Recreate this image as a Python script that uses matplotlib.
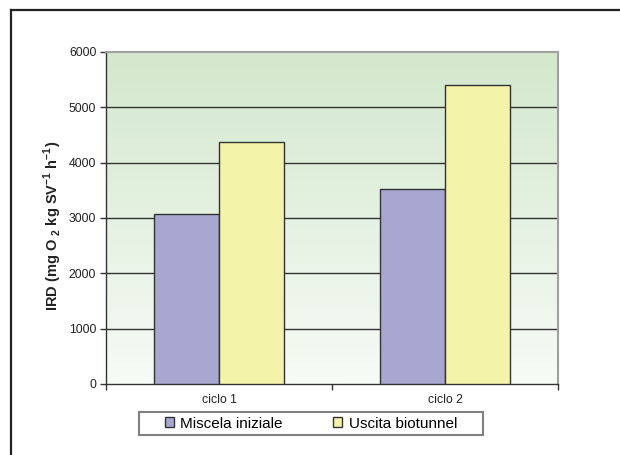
import numpy as np
import matplotlib
matplotlib.use("Agg")
import matplotlib.pyplot as plt
from matplotlib.lines import Line2D
from matplotlib.patches import Rectangle
from matplotlib.colors import LinearSegmentedColormap

plt.rcParams['font.family'] = ['Liberation Sans', 'DejaVu Sans']
plt.rcParams['mathtext.fontset'] = 'custom'
plt.rcParams['mathtext.rm'] = 'Liberation Sans'
plt.rcParams['mathtext.bf'] = 'Liberation Sans:bold'

# Data
categories = ["ciclo 1", "ciclo 2"]
miscela_iniziale = [3065, 3520]
uscita_biotunnel = [4370, 5410]
series_names = ["Miscela iniziale", "Uscita biotunnel"]
y_ticks = [0, 1000, 2000, 3000, 4000, 5000, 6000]

fig = plt.figure(figsize=(6.2, 4.55), dpi=100)
fig.patch.set_facecolor("white")
ax = fig.add_axes([106 / 620, 1 - 384 / 455, 452 / 620, 332 / 455])

# Gradient plot-area background
grad = np.linspace(0, 1, 256).reshape(-1, 1)
cmap = LinearSegmentedColormap.from_list("bg", ["#f7fbf6", "#d3e8cd"])
ax.imshow(grad, aspect="auto", cmap=cmap, origin="lower",
          extent=[0.5, 2.5, 0, 6000], zorder=0)

x = np.arange(1, len(categories) + 1)
w = 0.286
ax.bar(x - w / 2, miscela_iniziale, w, color="#a7a7d1", edgecolor="#333333",
       linewidth=1.0, zorder=3, label=series_names[0])
ax.bar(x + w / 2, uscita_biotunnel, w, color="#f3f3a9", edgecolor="#333333",
       linewidth=1.0, zorder=3, label=series_names[1])

ax.set_xlim(0.5, 2.5)
ax.set_ylim(0, 6000)
for yv in y_ticks[1:-1]:
    ax.axhline(yv, color="#333333", linewidth=1.0, zorder=2)

ax.set_yticks(y_ticks)
ax.set_yticklabels([str(v) for v in y_ticks], fontsize=8.8, color="#222222")
ax.tick_params(axis="y", direction="out", length=4, width=1, color="#333333", pad=3)

ax.set_xticks([0.5, 1.5, 2.5])
ax.set_xticklabels([])
ax.tick_params(axis="x", which="major", direction="out", length=4, width=1, color="#333333")
ax.set_xticks(x, minor=True)
ax.set_xticklabels(categories, minor=True, fontsize=8.8, color="#222222")
ax.tick_params(axis="x", which="minor", length=0, pad=7)

for side in ("left", "bottom"):
    ax.spines[side].set_color("#333333")
    ax.spines[side].set_linewidth(1.0)
for side in ("top", "right"):
    ax.spines[side].set_color("#a0a0a0")
    ax.spines[side].set_linewidth(1.5)

# Y-axis title
fig.text(53 / 620, 1 - 225.5 / 455,
         r"IRD (mg O $_{\mathbf{2}}$ kg SV$^{\mathbf{-1}}$ h$^{\mathbf{-1}}$)",
         rotation=90, ha="center", va="center",
         fontsize=10.5, fontweight="bold", color="#222222")

leg = fig.legend(loc="center", bbox_to_anchor=(311 / 620, 1 - 423.5 / 455), ncol=2,
                 fontsize=11, frameon=False, handlelength=0.6,
                 handleheight=0.6, handletextpad=0.4, columnspacing=3.3,
                 borderpad=0.2, borderaxespad=0)

# Legend box
fig.add_artist(Rectangle((139 / 620, 1 - 435 / 455), 344 / 620, 23 / 455,
                         transform=fig.transFigure, facecolor="none",
                         edgecolor="#808080", linewidth=1.5, zorder=1))

# Outer chart frame (top and left edges)
fig.add_artist(Line2D([11 / 620, 1.0], [1 - 10 / 455, 1 - 10 / 455],
                      transform=fig.transFigure, color="#222222", linewidth=1.6))
fig.add_artist(Line2D([11 / 620, 11 / 620], [0, 1 - 10 / 455],
                      transform=fig.transFigure, color="#222222", linewidth=1.6))

fig.savefig("out.png", dpi=100)
